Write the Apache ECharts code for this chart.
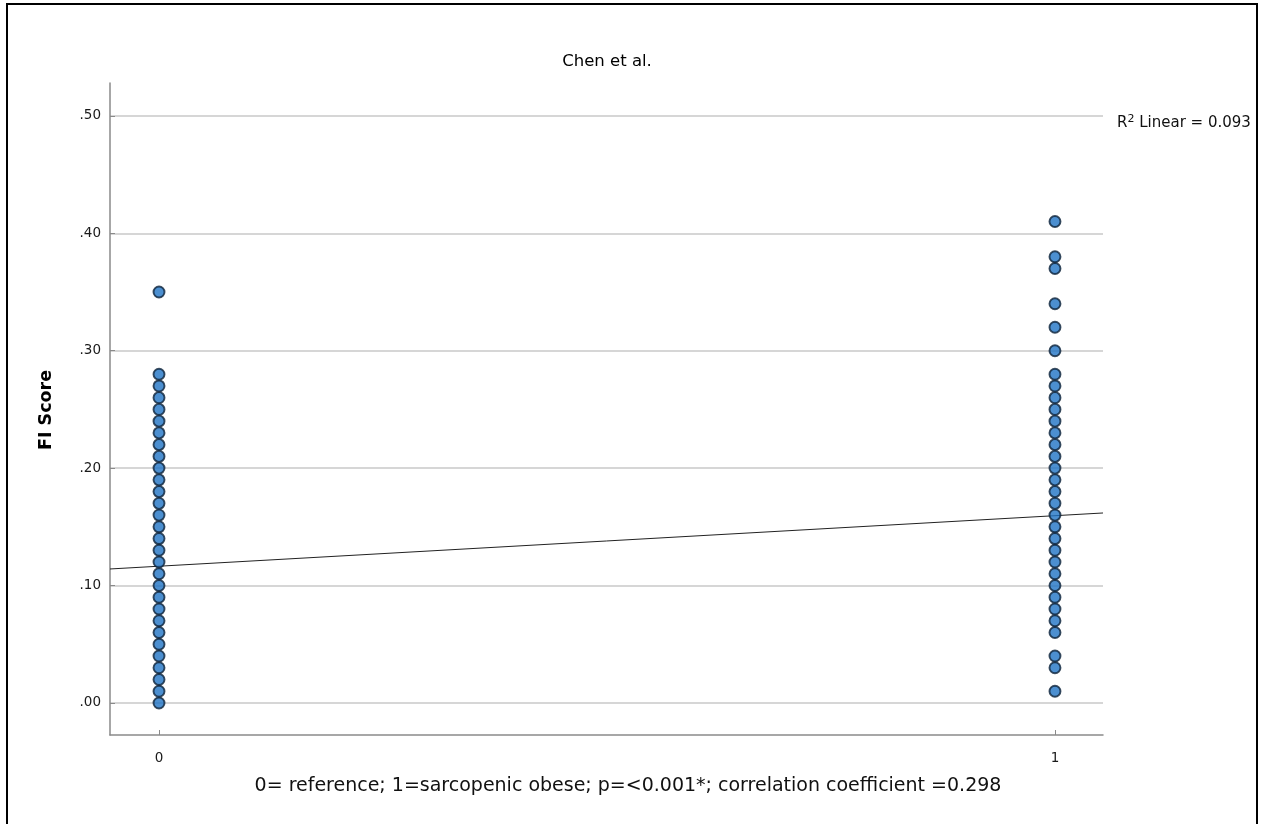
<!DOCTYPE html>
<html>
<head>
<meta charset="utf-8">
<script src="https://cdn.jsdelivr.net/npm/echarts@6/dist/echarts.min.js"></script>
<style>
  html, body { margin: 0; padding: 0; background: #ffffff; }
  #chart { width: 1263px; height: 824px; }
</style>
</head>
<body>
<div id="chart"></div>
<script>
// FI Score by group (0 = reference, 1 = sarcopenic obese); each distinct observed score
const referenceScores = [0.00, 0.01, 0.02, 0.03, 0.04, 0.05, 0.06, 0.07, 0.08, 0.09,
  0.10, 0.11, 0.12, 0.13, 0.14, 0.15, 0.16, 0.17, 0.18, 0.19, 0.20, 0.21, 0.22, 0.23,
  0.24, 0.25, 0.26, 0.27, 0.28, 0.35];
const sarcopenicScores = [0.01, 0.03, 0.04, 0.06, 0.07, 0.08, 0.09, 0.10, 0.11, 0.12,
  0.13, 0.14, 0.15, 0.16, 0.17, 0.18, 0.19, 0.20, 0.21, 0.22, 0.23, 0.24, 0.25, 0.26,
  0.27, 0.28, 0.30, 0.32, 0.34, 0.37, 0.38, 0.41];

// Fitted linear trend, endpoints at the ends of the x range
const fitLine = [[-0.0547, 0.1141], [1.0536, 0.1618]];

const yTicks = [0, 0.1, 0.2, 0.3, 0.4, 0.5];
const xTicks = [0, 1];
const yTickLabels = ['.00', '.10', '.20', '.30', '.40', '.50'];

const titleText = 'Chen et al.';
const yAxisTitle = 'FI Score';
const footnote = '0= reference; 1=sarcopenic obese; p=<0.001*; correlation coefficient =0.298';
const r2Value = '0.093';

const points = referenceScores.map(v => [0, v]).concat(sarcopenicScores.map(v => [1, v]));

const FONT = 'DejaVu Sans';
const chart = echarts.init(document.getElementById('chart'), null, { renderer: 'canvas' });

chart.setOption({
  animation: false,
  backgroundColor: '#ffffff',
  grid: { left: 110, right: 160, top: 83, bottom: 89, containLabel: false },
  xAxis: {
    type: 'value',
    min: -0.0547,
    max: 1.0536,
    axisLine: { show: true, onZero: false, lineStyle: { color: '#8a8a8a', width: 1.5 } },
    axisTick: { show: true, inside: true, length: 5, customValues: xTicks,
      lineStyle: { color: '#8a8a8a' } },
    axisLabel: { customValues: xTicks, margin: 16, color: '#1a1a1a',
      fontFamily: FONT, fontSize: 13.5 },
    splitLine: { show: false }
  },
  yAxis: {
    type: 'value',
    min: -0.0273,
    max: 0.528,
    axisLine: { show: true, onZero: false, lineStyle: { color: '#8a8a8a', width: 1.5 } },
    axisTick: { show: true, inside: true, length: 5, customValues: yTicks,
      lineStyle: { color: '#8a8a8a' } },
    axisLabel: {
      customValues: yTicks, margin: 9, color: '#1a1a1a', fontFamily: FONT, fontSize: 13.5,
      formatter: v => yTickLabels[yTicks.findIndex(t => Math.abs(t - v) < 1e-6)]
    },
    splitLine: { show: true, lineStyle: { color: '#c8c8c8', width: 1.5 } }
  },
  series: [
    {
      type: 'line',
      data: fitLine,
      symbol: 'none',
      lineStyle: { color: '#222222', width: 1 },
      z: 3,
      silent: true
    },
    {
      type: 'scatter',
      data: points,
      symbolSize: 11,
      itemStyle: { color: '#1f73c4', borderColor: '#0c2238', borderWidth: 1.9 },
      z: 4
    }
  ],
  graphic: [
    {
      type: 'rect', silent: true,
      shape: { x: 7, y: 4, width: 1250, height: 830 },
      style: { fill: 'none', stroke: '#000', lineWidth: 2 }
    },
    {
      type: 'text', x: 607, y: 62,
      style: { text: titleText, font: '500 16.5px "DejaVu Sans"', fill: '#000',
        textAlign: 'center', textVerticalAlign: 'middle' }
    },
    {
      type: 'text', x: 46, y: 410, rotation: Math.PI / 2,
      style: { text: yAxisTitle, font: 'bold 17.5px "DejaVu Sans"', fill: '#000',
        textAlign: 'center', textVerticalAlign: 'middle' }
    },
    {
      type: 'text', x: 628, y: 786,
      style: { text: footnote, font: '19px "DejaVu Sans"', fill: '#111',
        textAlign: 'center', textVerticalAlign: 'middle' }
    },
    {
      type: 'text', x: 1117, y: 123,
      style: {
        text: '{r|R}{s|2}{r| Linear = ' + r2Value + '}',
        textVerticalAlign: 'middle',
        rich: {
          r: { fontFamily: FONT, fontSize: 15, fill: '#111' },
          s: { fontFamily: FONT, fontSize: 11, fill: '#111', verticalAlign: 'top', padding: [0, 0, 7, 0] }
        }
      }
    }
  ]
});
</script>
</body>
</html>
